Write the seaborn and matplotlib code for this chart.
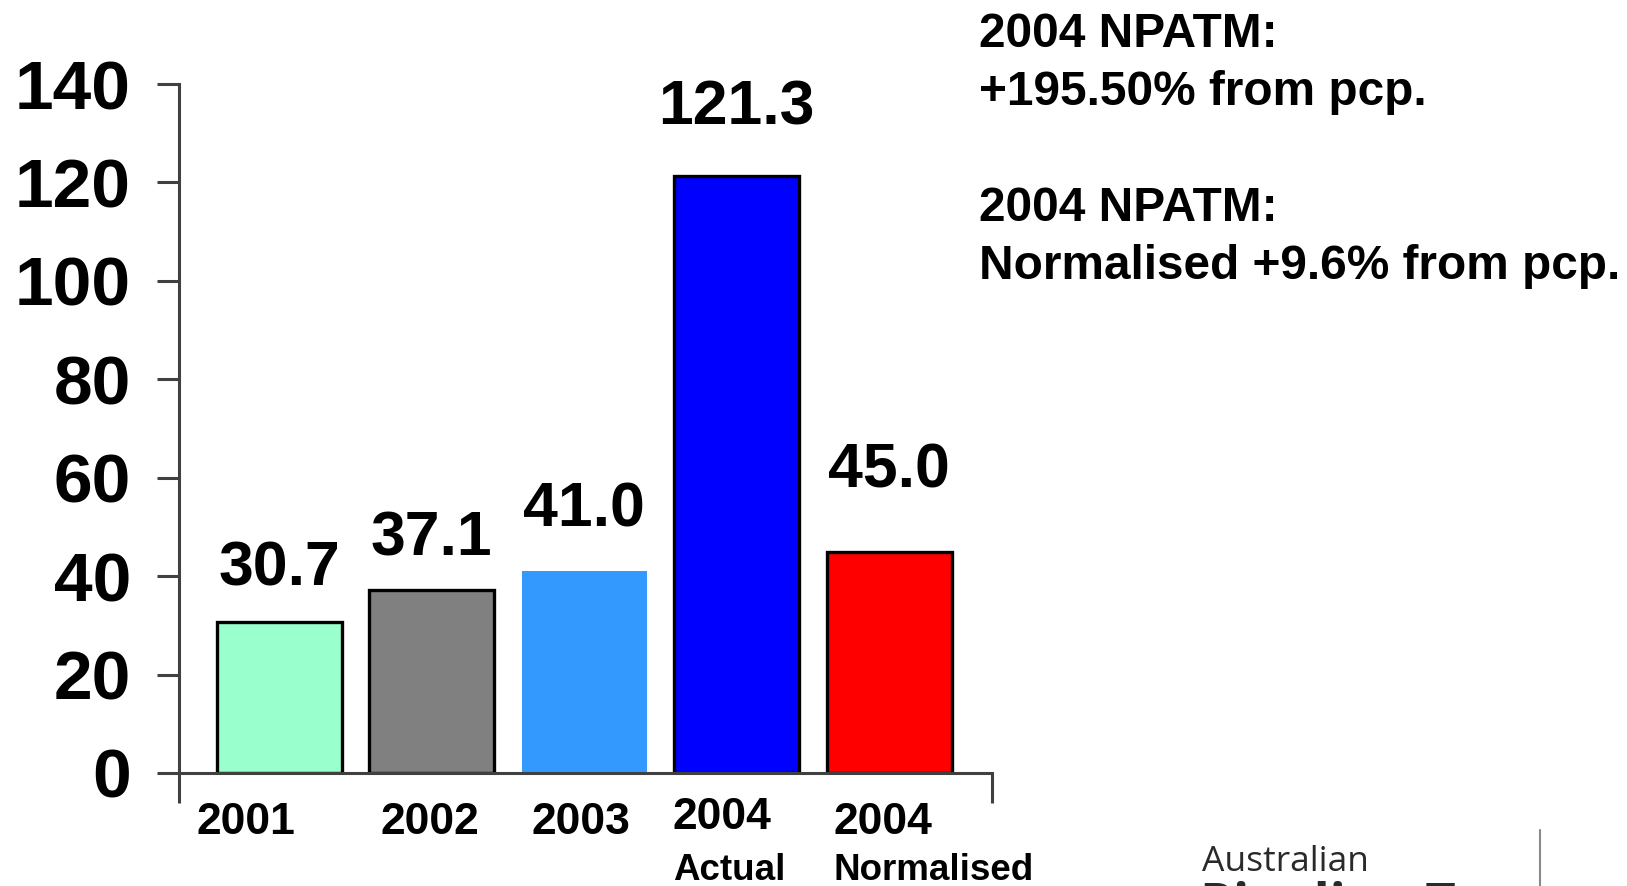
import matplotlib
matplotlib.use("Agg")
import matplotlib.pyplot as plt
import matplotlib.transforms as mtransforms
from matplotlib.lines import Line2D
import seaborn as sns
import pandas as pd

# ---- data ----
categories = ["2001", "2002", "2003", "2004 Actual", "2004 Normalised"]
values = [30.7, 37.1, 41.0, 121.3, 45.0]
value_labels = ["30.7", "37.1", "41.0", "121.3", "45.0"]
year_labels = ["2001", "2002", "2003", "2004", "2004"]
sub_labels = ["", "", "", "Actual", "Normalised"]
y_ticks = [0, 20, 40, 60, 80, 100, 120, 140]
note_text = "2004 NPATM:\n+195.50% from pcp.\n\n2004 NPATM:\nNormalised +9.6% from pcp."

# ---- styles / layout ----
bar_colors = ["#99FFCC", "#808080", "#3399FF", "#0000FF", "#FF0000"]
bar_edges = ["black", "black", "none", "black", "black"]
label_gap_pt = [26, 25, 32, 37, 46]
year_x = [-0.22, 0.99, 1.98, 2.577, 3.633]
year_ha = ["center", "center", "center", "left", "left"]
year_dy_pt = [44.0, 44.0, 44.0, 40.0, 44.0]
sub_x = [0, 0, 0, 2.584, 3.633]
axis_col = "#404040"

sns.set_theme(style="white")
plt.rcParams["font.family"] = ["Liberation Sans", "DejaVu Sans"]

W, H = 1627, 886
fig = plt.figure(figsize=(W / 100, H / 100), dpi=100)
ax = fig.add_axes([178.7 / W, (H - 773) / H, 813.3 / W, (773 - 84) / H])

df = pd.DataFrame({"cat": categories, "val": values})
sns.barplot(data=df, x="cat", y="val", hue="cat", palette=bar_colors,
            width=0.82, legend=False, ax=ax, saturation=1)

for p, ec in zip(ax.patches, bar_edges):
    if ec == "none":
        p.set_edgecolor("none")
        p.set_linewidth(0)
    else:
        p.set_edgecolor(ec)
        p.set_linewidth(2.4)

x0, x1 = -0.658, 4.675
ax.set_xlim(x0, x1)
ax.set_ylim(0, 140)
ax.set_xlabel("")
ax.set_ylabel("")

for s in ["top", "right"]:
    ax.spines[s].set_visible(False)
for s in ["left", "bottom"]:
    ax.spines[s].set_color(axis_col)
    ax.spines[s].set_linewidth(2.2)

ax.set_yticks(y_ticks)
ax.set_yticklabels([str(v) for v in y_ticks], fontsize=50, fontweight="bold")
ax.tick_params(axis="y", direction="out", length=15.8, width=2.2, color=axis_col,
               pad=18.5, left=True, labelcolor="black")
ax.set_xticks([x0, x1])
ax.set_xticklabels(["", ""])
ax.tick_params(axis="x", direction="out", length=21.6, width=2.2, color=axis_col,
               bottom=True)

# value labels above bars
for i, (v, lab) in enumerate(zip(values, value_labels)):
    tr = ax.transData + mtransforms.ScaledTranslation(0, label_gap_pt[i] / 72, fig.dpi_scale_trans)
    ax.text(i, v, lab, transform=tr, ha="center", va="baseline",
            fontsize=45, fontweight="bold", color="black")

# category labels
xt = ax.get_xaxis_transform()
for i, lab in enumerate(year_labels):
    tr = xt + mtransforms.ScaledTranslation(0, -year_dy_pt[i] / 72, fig.dpi_scale_trans)
    ax.text(year_x[i], 0, lab, transform=tr, ha=year_ha[i], va="baseline",
            fontsize=32, fontweight="bold", color="black", clip_on=False)
for i, lab in enumerate(sub_labels):
    if not lab:
        continue
    tr = xt + mtransforms.ScaledTranslation(0, -77.0 / 72, fig.dpi_scale_trans)
    ax.text(sub_x[i], 0, lab, transform=tr, ha="left", va="baseline",
            fontsize=26.5, fontweight="bold", color="black", clip_on=False)

# annotation on the right
fig.text(979 / W, 1 - 12 / H, note_text, ha="left", va="top", fontsize=34.4,
         fontweight="bold", color="black", linespacing=1.37)

# logo fragment (cut off by the lower edge, as in the source image)
fig.text(1202 / W, 1 - 871 / H, "Australian", ha="left", va="baseline",
         fontsize=25.5, color="#2a2a2a", family=["Open Sans", "DejaVu Sans"])
fig.text(1200 / W, 1 - 922 / H, "Pipeline Trust", ha="left", va="baseline",
         fontsize=38, color="#2a2a2a", fontweight="bold", family=["Open Sans", "DejaVu Sans"])
fig.add_artist(Line2D([1540 / W, 1540 / W], [0, 1 - 830 / H], transform=fig.transFigure,
                      color="#8a8a8a", linewidth=1.5))

fig.savefig("out.png", dpi=100)
